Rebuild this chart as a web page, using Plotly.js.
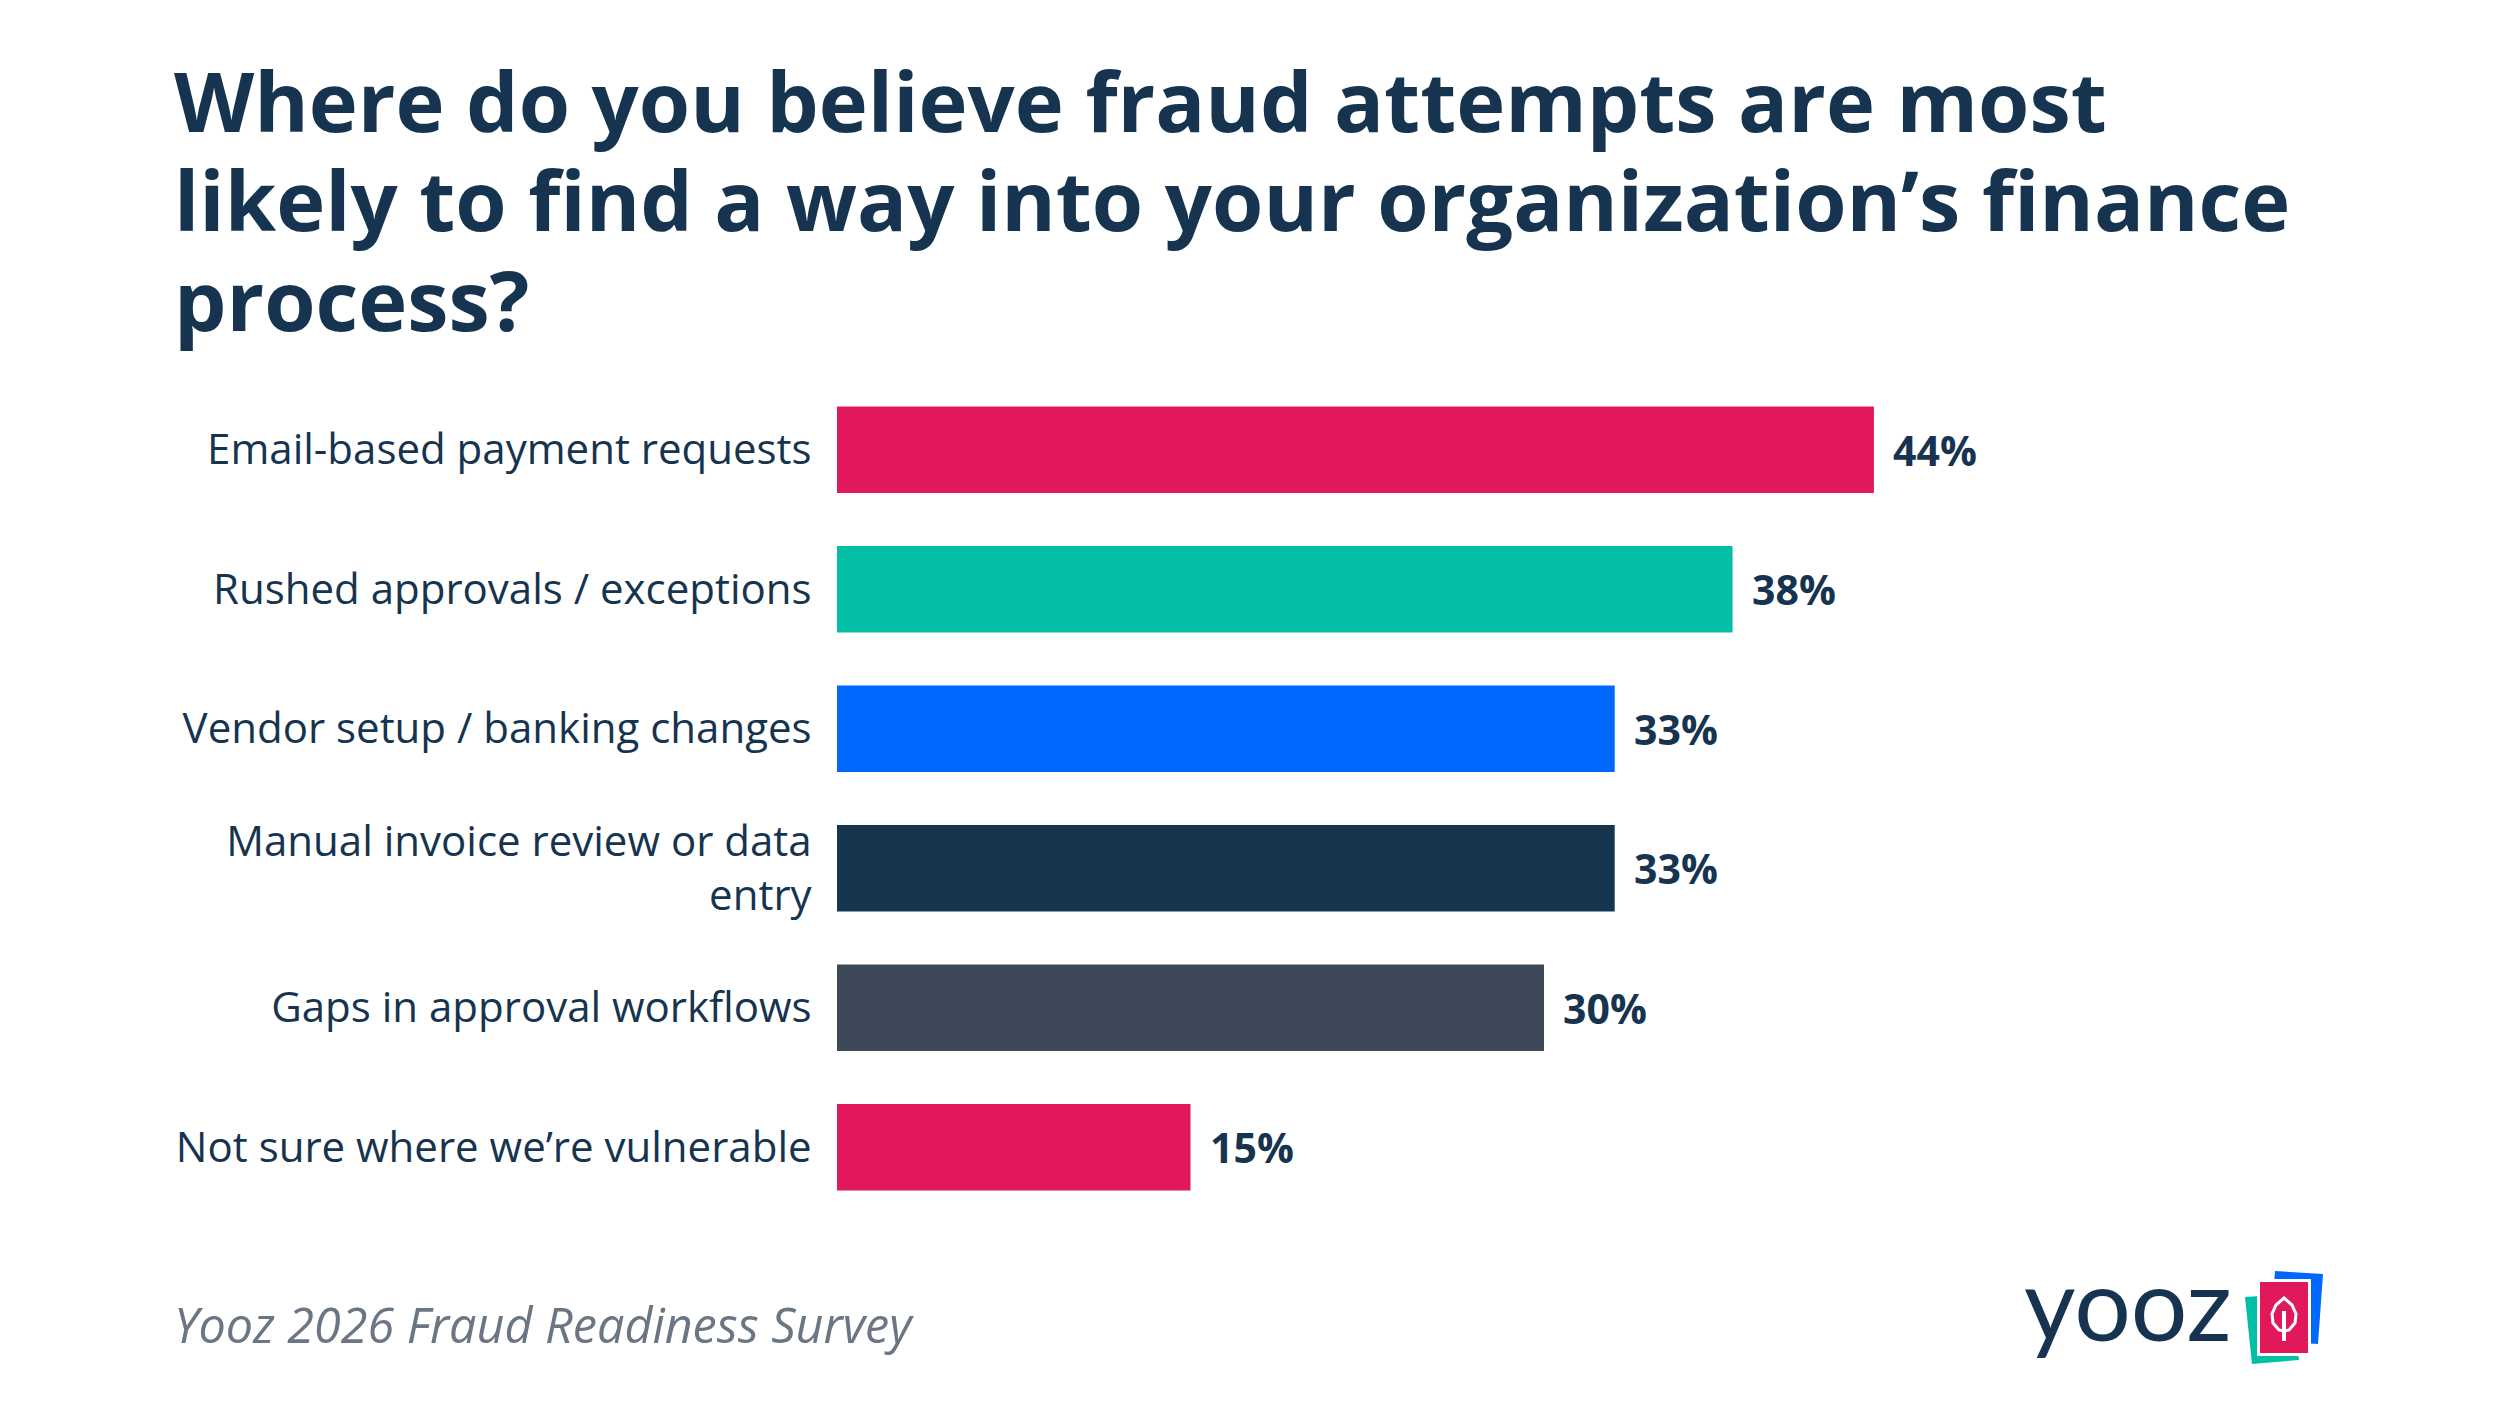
<!DOCTYPE html>
<html>
<head>
<meta charset="utf-8">
<script src="https://cdn.plot.ly/plotly-3.0.1.min.js"></script>
<style>html,body{margin:0;padding:0;background:#fff;}#chart{width:2500px;height:1407px;}</style>
</head>
<body>
<div id="chart"></div>
<script>
// ---- data ----
const categories = [
  "Email-based payment requests",
  "Rushed approvals / exceptions",
  "Vendor setup / banking changes",
  "Manual invoice review or data<br>entry",
  "Gaps in approval workflows",
  "Not sure where we’re vulnerable"
];
const values = [44, 38, 33, 33, 30, 15];
const valueLabels = ["44%", "38%", "33%", "33%", "30%", "15%"];
const titleLines = [
  "Where do you believe fraud attempts are most",
  "likely to find a way into your organization’s finance",
  "process?"
];
const sourceText = "Yooz 2026 Fraud Readiness Survey";
const logoText = "yooz";

// ---- style ----
const barColors = ["#E1195B", "#02BFA6", "#0068FF", "#16354F", "#3D4858", "#E1195B"];
const NAVY = "#16344F";
const FONT = "Open Sans, Noto Sans, sans-serif";

const W = 2500, H = 1407;
const M = {l: 837, r: 249, t: 380, b: 190};
const PW = W - M.l - M.r, PH = H - M.t - M.b;
const px = x => (x - M.l) / PW;
const py = y => 1 - (y - M.t) / PH;
const pathOf = pts => "M" + pts.map(p => px(p[0]) + "," + py(p[1])).join(" L") + " Z";

const annotations = [];
const titleMid = [99, 198, 298];
titleLines.forEach((t, i) => annotations.push({
  text: "<b>" + t + "</b>", xref: "paper", yref: "paper", x: px(172), y: py(titleMid[i]),
  xanchor: "left", yanchor: "middle", showarrow: false,
  font: {family: FONT, size: 83, color: NAVY}
}));
values.forEach((v, i) => annotations.push({
  text: "<b>" + valueLabels[i] + "</b>", x: v, y: categories[i], xref: "x", yref: "y",
  xanchor: "left", yanchor: "middle", xshift: 17, showarrow: false,
  font: {family: FONT, size: 41, color: NAVY}
}));
annotations.push({
  text: "<i>" + sourceText + "</i>", xref: "paper", yref: "paper", x: px(172), y: py(1324),
  xanchor: "left", yanchor: "middle", showarrow: false,
  font: {family: FONT, size: 48.5, color: "#6B7684"}
});
annotations.push({
  text: logoText, xref: "paper", yref: "paper", x: px(2022), y: py(1302),
  xanchor: "left", yanchor: "middle", showarrow: false,
  font: {family: "Lato, sans-serif", size: 100, color: NAVY}
});

const shapes = [
  // teal card
  {type: "path", xref: "paper", yref: "paper", line: {width: 0}, fillcolor: "#02BFA6",
   path: pathOf([[2245, 1297], [2290, 1294], [2299, 1360], [2252, 1364]])},
  // blue card
  {type: "path", xref: "paper", yref: "paper", line: {width: 0}, fillcolor: "#0068FF",
   path: pathOf([[2275, 1271], [2323, 1274], [2318, 1344], [2270, 1341]])},
  // white separator around pink card
  {type: "path", xref: "paper", yref: "paper", line: {width: 0}, fillcolor: "#FFFFFF",
   path: pathOf([[2257, 1279], [2311, 1279], [2311, 1356], [2257, 1356]])},
  // pink card
  {type: "path", xref: "paper", yref: "paper", line: {width: 0}, fillcolor: "#E1195B",
   path: pathOf([[2260, 1282], [2308, 1282], [2308, 1353], [2260, 1353]])},
  // leaf
  {type: "path", xref: "paper", yref: "paper", line: {width: 3, color: "#FFFFFF"}, fillcolor: "rgba(0,0,0,0)",
   path: pathOf([[2284, 1298], [2292, 1305], [2296, 1314], [2295, 1323], [2289, 1330], [2284, 1331], [2279, 1330], [2273, 1323], [2272, 1314], [2276, 1305]])},
  {type: "line", xref: "paper", yref: "paper", line: {width: 4, color: "#FFFFFF"},
   x0: px(2284), x1: px(2284), y0: py(1311), y1: py(1341)}
];

const trace = {
  type: "bar", orientation: "h", x: values, y: categories,
  marker: {color: barColors, line: {width: 0}}, width: 0.62,
  hoverinfo: "skip"
};

const layout = {
  width: W, height: H, margin: M, showlegend: false,
  paper_bgcolor: "#FFFFFF", plot_bgcolor: "#FFFFFF",
  xaxis: {range: [0, 60], visible: false, fixedrange: true},
  yaxis: {type: "category", categoryarray: categories, categoryorder: "array",
          range: [5.5, -0.5], showgrid: false, zeroline: false, showline: false,
          ticks: "outside", ticklen: 16, tickcolor: "rgba(0,0,0,0)",
          tickfont: {family: FONT, size: 42, color: NAVY}, fixedrange: true},
  annotations: annotations, shapes: shapes, hovermode: false,
  font: {family: FONT}
};

Plotly.newPlot("chart", [trace], layout, {displayModeBar: false, staticPlot: true});
</script>
</body>
</html>
